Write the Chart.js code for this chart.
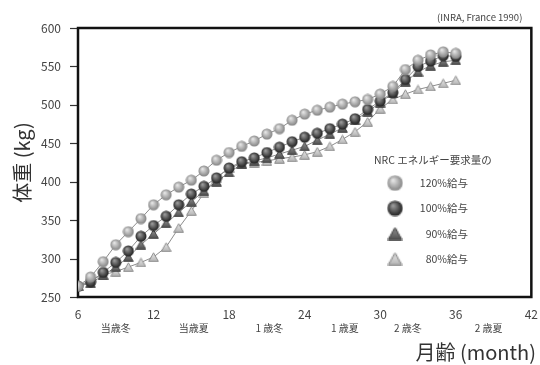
<!DOCTYPE html>
<html>
<head>
<meta charset="utf-8">
<script src="https://cdn.jsdelivr.net/npm/chart.js@4.4.1/dist/chart.umd.min.js"></script>
<style>
  html, body { margin: 0; padding: 0; background: #fff; }
  #wrap { width: 540px; height: 365px; position: relative; }
</style>
</head>
<body>
<div id="wrap"><canvas id="myChart" width="540" height="365"></canvas></div>
<script>
// data (month of age -> body weight kg)
var months = [6, 7, 8, 9, 10, 11, 12, 13, 14, 15, 16, 17, 18, 19, 20, 21, 22, 23, 24, 25, 26, 27, 28, 29, 30, 31, 32, 33, 34, 35, 36];
var w120 = [264, 276, 296, 318, 335, 352, 370, 383, 393, 402, 414, 428, 438, 446, 453, 462, 469, 480, 488, 493, 497, 501, 504, 507, 514, 524, 546, 558, 565, 569, 567];
var w100 = [264, 270, 282, 295, 310, 329, 343, 355, 370, 384, 394, 405, 418, 426, 431, 438, 445, 452, 458, 463, 469, 475, 482, 494, 505, 516, 533, 550, 557, 564, 563];
var w90  = [264, 268, 278, 289, 302, 318, 332, 346, 360, 374, 388, 400, 412, 423, 427, 431, 436, 441, 446, 454, 462, 470, 480, 491, 503, 515, 530, 543, 551, 556, 558];
var w80  = [264, 272, 279, 283, 289, 295, 302, 315, 340, 362, 385, 405, 418, 423, 425, 427, 430, 432, 435, 439, 446, 455, 465, 478, 495, 507, 514, 520, 524, 528, 532];

var seriesNames = ['120%給与', '100%給与', '90%給与', '80%給与'];
var legendTitle = 'NRC エネルギー要求量の';
var seasonLabels = ['当歳冬', '当歳夏', '1 歳冬', '1 歳夏', '2 歳冬', '2 歳夏'];
var seasonMonths = [9, 15.2, 21.2, 27.2, 32.2, 38.6];
var sourceText = '(INRA, France 1990)';
var xTitle = '月齢 (month)';
var yTitle = '体重 (kg)';

var FONT = "'Liberation Sans Narrow', 'Noto Sans CJK JP', sans-serif";
var JFONT = "'Noto Sans CJK JP', 'Open Sans', sans-serif";

//marker images
function sphere(light, dark) {
	var c = document.createElement('canvas');
	c.width = 12; c.height = 12;
	var g = c.getContext('2d');
	var grad = g.createRadialGradient(4.5, 4, 0.5, 6, 6, 6);
	grad.addColorStop(0, light);
	grad.addColorStop(1, dark);
	g.fillStyle = grad;
	g.beginPath();
	g.arc(6, 6, 5.5, 0, Math.PI * 2);
	g.fill();
	return c;
}

function triangle(fill, edge) {
	var c = document.createElement('canvas');
	c.width = 11; c.height = 10;
	var g = c.getContext('2d');
	var grad = g.createLinearGradient(0, 0, 0, 10);
	grad.addColorStop(0, fill[0]);
	grad.addColorStop(1, fill[1]);
	g.fillStyle = grad;
	g.strokeStyle = edge;
	g.lineWidth = 1;
	g.beginPath();
	g.moveTo(5.5, 0.8);
	g.lineTo(10.3, 9.3);
	g.lineTo(0.7, 9.3);
	g.closePath();
	g.fill();
	g.stroke();
	return c;
}

var mk120 = sphere('#e4e4e4', '#7c7c7c');
var mk100 = sphere('#9a9a9a', '#151515');
var mk90 = triangle(['#9a9a9a', '#4a4a4a'], '#444');
var mk80 = triangle(['#eeeeee', '#b0b0b0'], '#8a8a8a');
var markers = [mk120, mk100, mk90, mk80];

function pts(vals) {
	var out = [];
	for (var i = 0; i < months.length; i++) {
		out.push({ x: months[i], y: vals[i] });
	}
	return out;
}

// frame, tick marks, season labels, titles and legend
var extras = {
	id: 'extras',
	beforeDatasetsDraw: function (chart) {
		var ctx = chart.ctx, a = chart.chartArea, y = chart.scales.y;
		ctx.save();
		ctx.strokeStyle = '#333';
		ctx.lineWidth = 1.2;
		y.ticks.forEach(function (t) {
			var py = Math.round(y.getPixelForValue(t.value)) + 0.5;
			ctx.beginPath();
			ctx.moveTo(a.left - 8, py);
			ctx.lineTo(a.left, py);
			ctx.stroke();
		});
		ctx.strokeStyle = '#111';
		ctx.lineWidth = 2.5;
		ctx.strokeRect(a.left, a.top, a.right - a.left, a.bottom - a.top);
		ctx.restore();
	},
	afterDraw: function (chart) {
		var ctx = chart.ctx, a = chart.chartArea, x = chart.scales.x;
		ctx.save();
		ctx.fillStyle = '#444';
		ctx.textBaseline = 'middle';
		ctx.textAlign = 'center';
		ctx.font = '10px ' + JFONT;
		for (var i = 0; i < seasonLabels.length; i++) {
			ctx.fillText(seasonLabels[i], x.getPixelForValue(seasonMonths[i]), a.bottom + 31);
		}

		ctx.textAlign = 'right';
		ctx.font = '9.5px ' + FONT;
		ctx.fillText(sourceText, a.right - 9, 17);

		ctx.font = '20px ' + JFONT;
		ctx.fillStyle = '#333';
		ctx.textBaseline = 'alphabetic';
		ctx.fillText(xTitle, 536, 360);

		// legend
		ctx.fillStyle = '#444';
		ctx.textBaseline = 'middle';
		ctx.textAlign = 'left';
		ctx.font = '10.5px ' + JFONT;
		ctx.fillText(legendTitle, 374, 160);
		ctx.textAlign = 'right';
		for (var k = 0; k < seriesNames.length; k++) {
			var yy = 183 + k * 25.3;
			var m = markers[k];
			var sc = 1.4;
			ctx.drawImage(m, 395 - m.width * sc / 2, yy - m.height * sc / 2, m.width * sc, m.height * sc);
			ctx.fillText(seriesNames[k], 468, yy);
		}
		ctx.restore();
	}
};

var data = {
	datasets: [
		{ label: seriesNames[0], data: pts(w120), pointStyle: mk120, order: 1 },
		{ label: seriesNames[1], data: pts(w100), pointStyle: mk100, order: 2 },
		{ label: seriesNames[2], data: pts(w90), pointStyle: mk90, order: 3 },
		{ label: seriesNames[3], data: pts(w80), pointStyle: mk80, order: 4 }
	]
};
data.datasets.forEach(function (d) {
	d.borderColor = '#8c8c8c';
	d.borderWidth = 1;
	d.fill = false;
	d.tension = 0;
	d.pointRadius = 6;
});

var myLineChart = new Chart(document.getElementById('myChart'), {
	type: 'line',
	data: data,
	plugins: [extras],
	options: {
		responsive: false,
		animation: false,
		layout: { padding: { top: 28, right: 6, left: 0, bottom: 0 } },
		plugins: { legend: { display: false }, tooltip: { enabled: false } },
		scales: {
			x: {
				type: 'linear',
				min: 6, max: 42,
				grid: { display: false },
				border: { display: false },
				ticks: { stepSize: 6, color: '#444', font: { size: 12, family: FONT }, padding: 2 },
				afterFit: function (s) { s.height = 68; }
			},
			y: {
				min: 250, max: 600,
				grid: { display: false },
				border: { display: false },
				ticks: { stepSize: 50, color: '#444', font: { size: 12, family: FONT }, padding: 9 },
				title: { display: true, text: yTitle, color: '#333', font: { size: 20, family: JFONT }, padding: { top: 10 } },
				afterFit: function (s) { s.width = 78; }
			}
		}
	}
});
</script>
</body>
</html>
